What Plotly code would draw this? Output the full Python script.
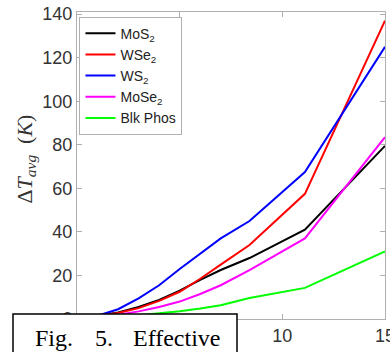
import plotly.graph_objects as go

x_vals = [1, 2, 3, 4, 5, 6, 7, 8.4, 11.1, 15]
mos2 = [1.5, 3, 5.5, 8.8, 13, 18, 22.5, 28, 41, 79.5]
wse2 = [1.5, 2.8, 5, 8.3, 12.5, 18.5, 25, 34, 57.5, 137]
ws2 = [1.5, 4.5, 9.5, 15.5, 23, 30, 37, 45, 67.5, 125]
mose2 = [1.2, 2, 3.5, 5.5, 8, 11.5, 15.5, 22.5, 37, 83.5]
blkphos = [0.8, 1, 1.7, 2.6, 3.6, 4.8, 6.3, 9.6, 14.3, 31]

names = ["MoS<sub>2</sub>", "WSe<sub>2</sub>", "WS<sub>2</sub>", "MoSe<sub>2</sub>", "Blk Phos"]
series = [mos2, wse2, ws2, mose2, blkphos]
colors = ["#000000", "#ff0000", "#0000ff", "#ff00ff", "#00ff00"]

y_ticks = [0, 20, 40, 60, 80, 100, 120, 140]
x_ticks = [5, 10, 15]

fig = go.Figure()
for n, s, c in zip(names, series, colors):
    fig.add_trace(go.Scatter(x=x_vals, y=s, mode="lines", name=n,
                             line=dict(color=c, width=2)))

axis_common = dict(showline=True, linecolor="#b0b0b0", linewidth=1, mirror="allticks",
                   ticks="inside", ticklen=5, tickcolor="#b0b0b0", showgrid=False,
                   zeroline=False, ticklabeloverflow="allow", automargin=False,
                   tickfont=dict(family="Liberation Sans", size=18, color="#333333"))

fig.update_layout(
    width=390, height=352,
    margin=dict(l=77, r=5, t=12, b=33),
    paper_bgcolor="white", plot_bgcolor="white",
    xaxis=dict(range=[0, 15], tickvals=x_ticks, **axis_common),
    yaxis=dict(range=[0, 141], tickvals=y_ticks, **axis_common),
    legend=dict(x=0.008, y=0.985, xanchor="left", yanchor="top",
                bgcolor="white", bordercolor="#b0b0b0", borderwidth=1,
                font=dict(family="Liberation Sans", size=14, color="#222222"),
                itemwidth=30, tracegroupgap=0),
    showlegend=True,
)

fig.add_annotation(text="Δ<i>T<sub>avg</sub></i>  (<i>K</i>)", xref="paper", yref="paper",
                   x=-0.165, y=0.52, showarrow=False, textangle=-90,
                   font=dict(family="Liberation Serif", size=22, color="#333333"),
                   xanchor="center", yanchor="middle")

# caption box overlapping the bottom
fig.add_shape(type="rect", xref="paper", yref="paper",
              x0=(13 - 77) / 308, x1=(237 - 77) / 308,
              y0=(319 - 370) / 307, y1=(319 - 314) / 307,
              line=dict(color="black", width=1.5), fillcolor="white", layer="above")
for txt, px in [("Fig.", 33), ("5.", 93), ("Effective", 131)]:
    fig.add_annotation(text=txt, xref="paper", yref="paper",
                       x=(px - 77) / 308, y=(319 - 338) / 307, showarrow=False,
                       xanchor="left", yanchor="middle",
                       font=dict(family="Liberation Serif", size=24, color="black"))

fig.write_html("out.html")
